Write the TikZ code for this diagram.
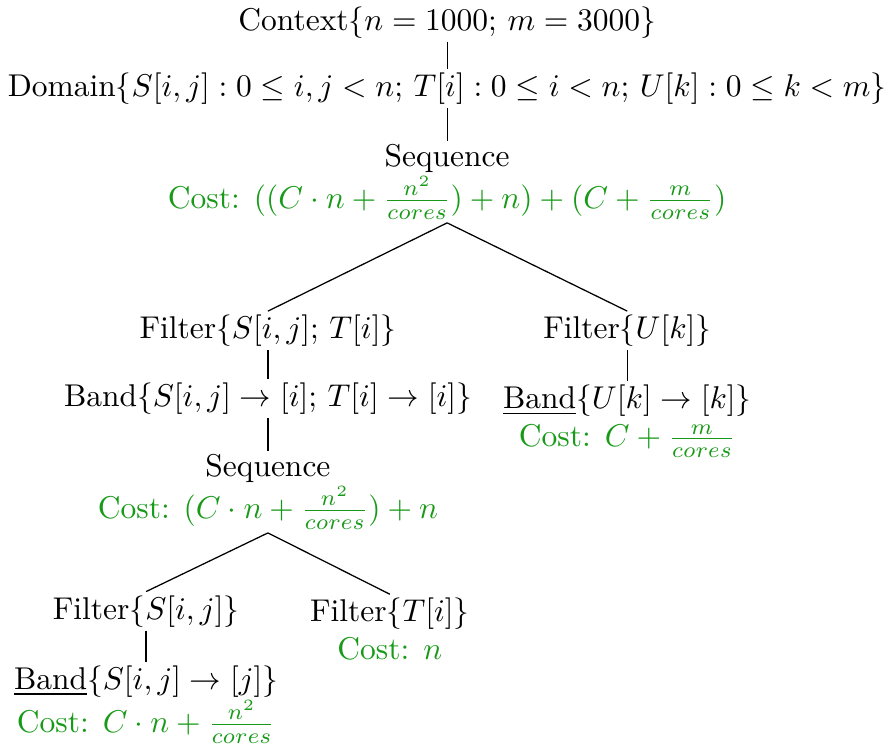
\documentclass[tikz,border=0pt]{standalone}
\usepackage{amsmath}
\definecolor{CostClr}{RGB}{24,154,24}

\begin{document}
\begin{tikzpicture}[
  every node/.style={inner sep=1pt,align=center},
  cost/.style={color=CostClr},
  edge/.style={line width=0.4pt,color=black}]
\useasboundingbox (0,0) rectangle (9.91,-8.34);

% The nodes of the schedule tree.
\node (ctx) at (4.99,-0.25) {Context$\{n = 1000;\, m = 3000\}$};
\node (dom) at (4.99,-0.99) {Domain$\{S[i,j] : 0 \leq i,j < n;\, T[i] : 0 \leq i < n;\, U[k] : 0 \leq k < m\}$};
\node (seqA) at (4.99,-2.03) {Sequence\\ \textcolor{CostClr}{Cost: $((C \cdot n + \frac{n^2}{cores}) + n) + (C + \frac{m}{cores})$}};

\node (filtA) at (2.99,-3.69) {Filter$\{S[i,j];\, T[i]\}$};
\node (bandA) at (2.99,-4.45) {Band$\{S[i,j] \to [i];\, T[i] \to [i]\}$};
\node (seqB) at (2.99,-5.49) {Sequence\\ \textcolor{CostClr}{Cost: $(C \cdot n + \frac{n^2}{cores}) + n$}};

\node (filtB) at (7.0,-3.69) {Filter$\{U[k]\}$};
\node (bandB) at (7.0,-4.70) {\underline{Band}$\{U[k] \to [k]\}$\\ \textcolor{CostClr}{Cost: $C + \frac{m}{cores}$}};

\node (filtC) at (1.63,-6.82) {Filter$\{S[i,j]\}$};
\node (bandC) at (1.63,-7.86) {\underline{Band}$\{S[i,j] \to [j]\}$\\ \textcolor{CostClr}{Cost: $C \cdot n + \frac{n^2}{cores}$}};

\node (filtD) at (4.35,-7.02) {Filter$\{T[i]\}$\\ \textcolor{CostClr}{Cost: $n$}};

% The edges.
\draw[edge] (ctx) -- (dom);
\draw[edge] (dom) -- (seqA);
\draw[edge] (seqA.south) -- (filtA.north);
\draw[edge] (seqA.south) -- (filtB.north);
\draw[edge] (filtA) -- (bandA);
\draw[edge] (bandA) -- (seqB);
\draw[edge] (filtB) -- (bandB);
\draw[edge] (seqB.south) -- (filtC.north);
\draw[edge] (seqB.south) -- (filtD.north);
\draw[edge] (filtC) -- (bandC);

\end{tikzpicture}
\end{document}
